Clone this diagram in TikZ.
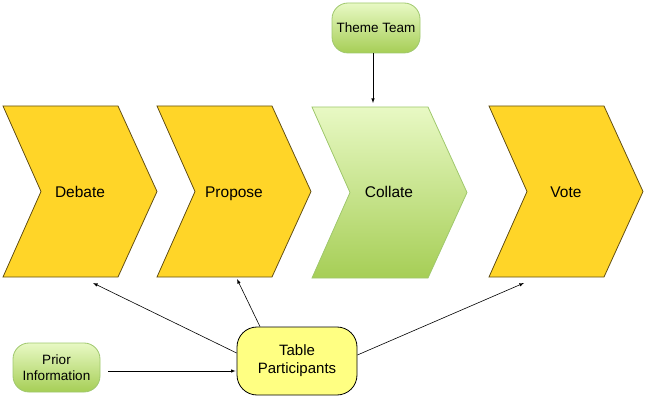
\documentclass[tikz,border=0pt]{standalone}
\usepackage{fontspec}
\setmainfont{Liberation Sans}
\usepackage{tikz}
\usetikzlibrary{calc}
\usepackage{xcolor}
\definecolor{chevyellow}{RGB}{255,213,40}
\definecolor{chevedge}{RGB}{100,80,20}
\definecolor{greentop}{RGB}{232,249,196}
\definecolor{greenbot}{RGB}{166,206,86}
\definecolor{greenedge}{RGB}{160,200,110}
\definecolor{tpfill}{RGB}{255,255,130}

\begin{document}
\begin{tikzpicture}[x=1pt, y=-1pt,
  chev/.style = {fill=chevyellow, draw=chevedge, line width=0.8pt},
  greenchev/.style = {top color=greentop, bottom color=greenbot, draw=greenedge, line width=0.8pt},
  chevtext/.style = {font=\fontsize{15.5}{18}\selectfont, text height=11.5pt, text depth=3pt},
  greenbox/.style = {rectangle, rounded corners=16pt, top color=greentop, bottom color=greenbot,
    draw=greenedge, line width=0.8pt, align=center, font=\fontsize{13.5}{16}\selectfont},
  link/.style = {-latex, line width=0.6pt}]
  \useasboundingbox (0,0) rectangle (646,401);
  \foreach \x/\name/\txt in {3/debate/Debate, 157/propose/Propose, 489/vote/Vote}
  {
  \filldraw[chev] (\x,106) -- ++(115,0) -- ++(39,85.5) -- ++(-39,85.5) -- ++(-115,0) -- ++(38,-85.5) -- cycle;
  \node[chevtext] at (\x+77,193) (\name) {\txt};
  }
  \path[greenchev] (312,107) -- ++(116,0) -- ++(39,85.5) -- ++(-39,85.5) -- ++(-116,0) -- ++(38,-85.5) -- cycle;
  \node[chevtext] at (389,193) (collate) {Collate};

  \node[greenbox, minimum width=88, minimum height=50] at (376,28) (theme) {Theme Team};
  \node[greenbox, minimum width=87, minimum height=49] at (56.5,367.5) (prior) {Prior\\Information};
  \node[rectangle, rounded corners=20pt, fill=tpfill, draw=black, line width=0.8pt, align=center,
    minimum width=120, minimum height=68, font=\fontsize{15}{18}\selectfont] at (297,361) (tp) {Table\\Participants};

  \coordinate (collatein) at (373,103);
  \coordinate (debatein) at (93,283);
  \coordinate (proposein) at (237,279);
  \coordinate (votein) at (524,283);
  \draw[link] (theme.south -| collatein) -- (collatein);
  \draw[link] ($(tp.west)+(0,-8)$) -- (debatein);
  \draw[link] ($(tp.north)+(-37,0)$) -- (proposein);
  \draw[link] ($(tp.east)+(0,-6)$) -- (votein);
  \draw[link] ($(prior.east)+(8,3.5)$) -- ($(tp.west)+(-1,10)$);
\end{tikzpicture}
\end{document}
